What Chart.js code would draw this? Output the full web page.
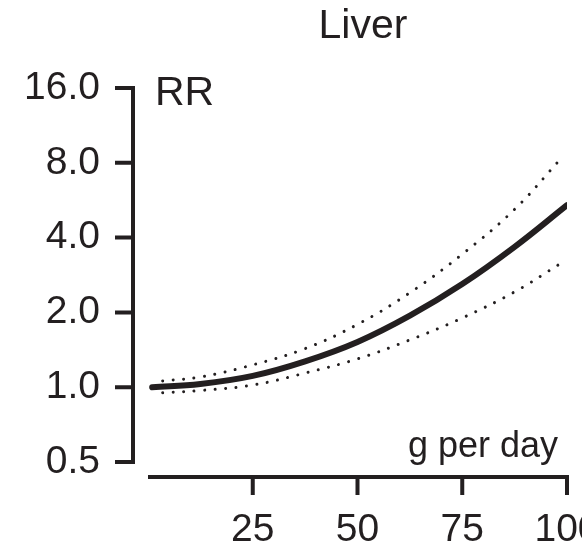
<!DOCTYPE html>
<html>
<head>
<meta charset="utf-8">
<script src="https://cdn.jsdelivr.net/npm/chart.js@4"></script>
<style>
    html, body { margin: 0; padding: 0; background: #fff; }
    canvas { display: block; }
</style>
</head>
<body>
<canvas id="liverChart" width="582" height="548"></canvas>
<script>
// Dosis (g por día) y riesgo relativo
const doseMain = [1, 12.5, 25, 37.5, 50, 62.5, 75, 87.5, 100];
const rrMain = [1.0, 1.03, 1.11, 1.27, 1.52, 1.94, 2.6, 3.67, 5.4];
const doseCI = [3.5, 12.5, 25, 37.5, 50, 62.5, 75, 87.5, 98.5];
const rrUpper = [1.06, 1.10, 1.23, 1.43, 1.79, 2.4, 3.43, 5.2, 8.3];
const rrLower = [0.95, 0.97, 1.02, 1.14, 1.30, 1.55, 1.90, 2.42, 3.15];
const xTicks = [25, 50, 75, 100];
const yTicks = [0.5, 1, 2, 4, 8, 16];

const ink = '#231f20';
const fontFamily = '"Liberation Sans", Arial, Helvetica, sans-serif';

function toPoints(xs, ys) {
    return xs.map((x, i) => ({ x: x, y: ys[i] }));
}

// Ejes "separados" al estilo R, más textos del título y etiquetas
const axesPlugin = {
    id: 'rAxes',
    afterDraw(chart) {
        const ctx = chart.ctx;
        const xs = chart.scales.x;
        const ys = chart.scales.y;
        const area = chart.chartArea;
        ctx.save();
        ctx.strokeStyle = ink;
        ctx.lineWidth = 4;
        ctx.lineCap = 'butt';

        // eje Y
        const axX = area.left - 15;
        ctx.beginPath();
        ctx.moveTo(axX, ys.getPixelForValue(16) - 2);
        ctx.lineTo(axX, ys.getPixelForValue(0.5) + 2);
        yTicks.forEach(v => {
            const p = ys.getPixelForValue(v);
            ctx.moveTo(axX - 18, p);
            ctx.lineTo(axX + 2, p);
        });
        ctx.stroke();

        // eje X
        const axY = area.bottom + 15;
        ctx.beginPath();
        ctx.moveTo(xs.getPixelForValue(0), axY);
        ctx.lineTo(xs.getPixelForValue(100) + 2, axY);
        xTicks.forEach(v => {
            const p = xs.getPixelForValue(v);
            ctx.moveTo(p, axY - 2);
            ctx.lineTo(p, axY + 18);
        });
        ctx.stroke();

        // textos
        ctx.fillStyle = ink;
        ctx.textBaseline = 'alphabetic';
        ctx.font = '41px ' + fontFamily;
        ctx.textAlign = 'center';
        ctx.fillText('Liver', 363, 38);
        ctx.textAlign = 'left';
        ctx.fillText('RR', 155, 105);
        ctx.font = '36px ' + fontFamily;
        ctx.fillText('g per day', 408, 457);
        ctx.restore();
    }
};

const lineStyle = {
    borderColor: ink,
    pointRadius: 0,
    tension: 0.4,
    borderCapStyle: 'round',
    fill: false
};

const ctx = document.getElementById('liverChart').getContext('2d');
const liverChart = new Chart(ctx, {
    type: 'line',
    data: {
        datasets: [
            Object.assign({}, lineStyle, {
                label: 'RR',
                data: toPoints(doseMain, rrMain),
                borderWidth: 6
            }),
            Object.assign({}, lineStyle, {
                label: 'Upper',
                data: toPoints(doseCI, rrUpper),
                borderWidth: 3,
                borderDash: [0.01, 10.5]
            }),
            Object.assign({}, lineStyle, {
                label: 'Lower',
                data: toPoints(doseCI, rrLower),
                borderWidth: 3,
                borderDash: [0.01, 10.5]
            })
        ]
    },
    options: {
        responsive: false,
        animation: false,
        layout: {
            padding: { top: 88, right: 15, left: 0, bottom: 0 }
        },
        scales: {
            x: {
                type: 'linear',
                min: 0,
                max: 100,
                grid: { display: false },
                border: { display: false },
                afterBuildTicks: scale => {
                    scale.ticks = xTicks.map(v => ({ value: v }));
                },
                afterFit: scale => {
                    scale.height = 86;
                    scale.paddingLeft = 0;
                    scale.paddingRight = 0;
                },
                ticks: {
                    autoSkip: false,
                    maxRotation: 0,
                    padding: 37,
                    color: ink,
                    font: { family: fontFamily, size: 39, lineHeight: 1.2 }
                }
            },
            y: {
                type: 'logarithmic',
                min: 0.5,
                max: 16,
                grid: { display: false },
                border: { display: false },
                afterBuildTicks: scale => {
                    scale.ticks = yTicks.map(v => ({ value: v }));
                },
                afterFit: scale => {
                    scale.width = 148;
                },
                ticks: {
                    autoSkip: false,
                    padding: 40,
                    color: ink,
                    font: { family: fontFamily, size: 39 },
                    callback: value => Number(value).toFixed(1)
                }
            }
        },
        plugins: {
            legend: { display: false },
            tooltip: { enabled: false },
            title: { display: false }
        }
    },
    plugins: [axesPlugin]
});
</script>
</body>
</html>
